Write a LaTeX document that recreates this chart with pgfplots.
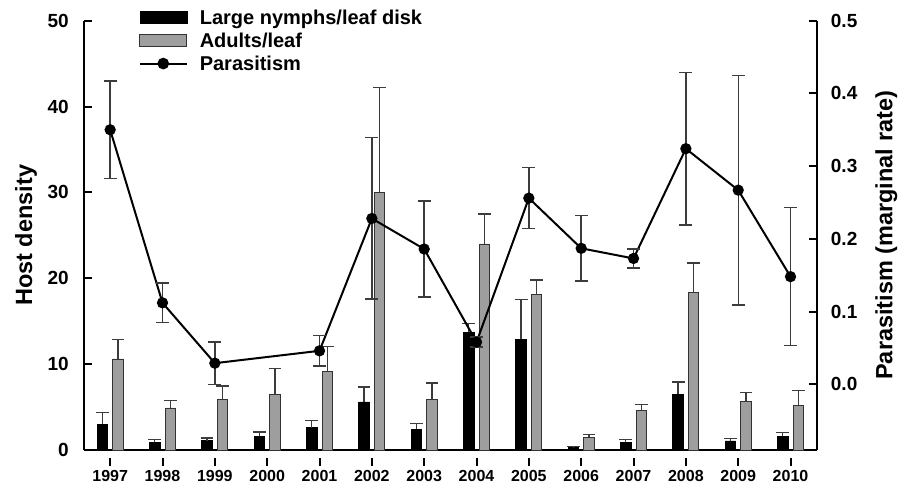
\documentclass[border=0pt]{standalone}
\usepackage{fontspec}
\setmainfont{Liberation Sans}
\usepackage{pgfplots}
\usepackage{pgfplotstable}
\pgfplotsset{compat=1.18}

\definecolor{adultgray}{RGB}{158,158,158}
\definecolor{errgray}{RGB}{60,60,60}

% Host densities per year: large nymphs per leaf disk and adults per leaf (mean, SE)
\pgfplotstableread{
year nymph nymphErr adult adultErr
1997 3.0  1.4  10.6 2.3
1998 0.9  0.3  4.9  0.9
1999 1.1  0.3  5.9  1.55
2000 1.6  0.5  6.5  3.0
2001 2.6  0.85 9.2  2.85
2002 5.6  1.75 30.0 12.2
2003 2.4  0.7  5.9  1.9
2004 13.7 1.0  24.0 3.5
2005 12.9 4.65 18.1 1.7
2006 0.3  0.08 1.5  0.3
2007 0.9  0.3  4.6  0.7
2008 6.5  1.4  18.3 3.5
2009 1.05 0.3  5.7  1.0
2010 1.6  0.45 5.2  1.7
}\hosttable

% Marginal parasitism rate (no estimate for 2000)
\pgfplotstableread{
year rate err
1997 0.350 0.067
1998 0.112 0.027
1999 0.029 0.029
2001 0.046 0.021
2002 0.228 0.111
2003 0.186 0.066
2004 0.058 0.007
2005 0.256 0.042
2006 0.187 0.045
2007 0.173 0.013
2008 0.324 0.105
2009 0.267 0.158
2010 0.148 0.095
}\parasitism

\pgfplotsset{
  % legend swatches are 47pt wide; the empty path leaves a gap before the text
  barlegend/.style={legend image code/.code={\draw[##1] (0pt,-6pt) rectangle (47pt,6pt); \path (57pt,0pt);}},
  linelegend/.style={legend image code/.code={\draw[##1] (0pt,0pt) -- (47pt,0pt); \fill[black] (23.5pt,0pt) circle (4.8pt); \path (57pt,0pt);}},
  panel/.style={
    at={(84pt,33pt)}, anchor=south west,
    scale only axis, width=732.7pt, height=429.3pt,
    xmin=1996.5, xmax=2010.5,
    enlargelimits=false, clip=false,
    axis line style={line width=2pt},
    tick align=inside, major tick length=8pt,
    every tick/.style={black, line width=2pt},
    /pgf/number format/assume math mode=true,
  },
  /pgfplots/error bars/errstyle/.style={
    error bar style={errgray, line width=1.4pt},
    error mark options={rotate=90, errgray, mark size=6.4pt, line width=1.4pt},
  },
}

\begin{document}
\begin{tikzpicture}
\useasboundingbox (0,0) rectangle (911pt,483pt);

% Left axis: host densities as paired bars
\begin{axis}[
  panel,
  axis y line*=left, axis x line*=bottom,
  ymin=0, ymax=50, ytick={0,10,20,30,40,50},
  xtick={1997,1998,1999,2000,2001,2002,2003,2004,2005,2006,2007,2008,2009,2010},
  xticklabels={1997,1998,1999,2000,2001,2002,2003,2004,2005,2006,2007,2008,2009,2010},
  x tick style={yshift=-8pt},
  xticklabel style={inner sep=0pt, anchor=north, yshift=-12pt, font=\bfseries\fontsize{16}{16}\selectfont},
  yticklabel style={inner sep=0pt, anchor=east, xshift=-15pt, font=\bfseries\fontsize{19}{19}\selectfont},
  ylabel={Host density},
  ylabel style={at={(axis description cs:-0.0942,0.5)}, anchor=north, inner sep=0pt, font=\bfseries\fontsize{23.5}{23.5}\selectfont},
  ybar=5pt, bar width=10.5pt,
]
\addplot[fill=black, draw=black, line width=0.8pt,
  error bars/.cd, y dir=plus, y explicit, errstyle]
  table[x=year, y=nymph, y error=nymphErr] {\hosttable};
\addplot[fill=adultgray, draw=black!80, line width=0.8pt,
  error bars/.cd, y dir=plus, y explicit, errstyle]
  table[x=year, y=adult, y error=adultErr] {\hosttable};
\end{axis}

% Right axis: parasitism rate as a line
\begin{axis}[
  panel,
  axis y line*=right, axis x line=none,
  ymin=-0.0904, ymax=0.5, ytick={0,0.1,0.2,0.3,0.4,0.5},
  yticklabel style={inner sep=0pt, anchor=west, xshift=14pt, font=\bfseries\fontsize{19}{19}\selectfont,
    /pgf/number format/.cd, fixed, fixed zerofill, precision=1},
  ylabel={Parasitism (marginal rate)},
  ylabel style={at={(axis description cs:1.0796,0.5)}, anchor=north, inner sep=0pt, font=\bfseries\fontsize{23.5}{23.5}\selectfont},
  legend style={draw=none, fill=none, at={(axis description cs:0.0745,1.031)}, anchor=north west,
    inner sep=0pt, row sep=3pt, font=\bfseries\fontsize{20}{20}\selectfont},
  legend cell align=left,
]
\addlegendimage{barlegend, fill=black, draw=black}
\addlegendentry{Large nymphs/leaf disk}
\addlegendimage{barlegend, fill=adultgray, draw=black!80, line width=0.8pt}
\addlegendentry{Adults/leaf}
\addlegendimage{linelegend, black, line width=2pt}
\addlegendentry{Parasitism}
\addplot[black, line width=2pt, mark=*, mark size=4.6pt, forget plot,
  error bars/.cd, y dir=both, y explicit, errstyle]
  table[x=year, y=rate, y error=err] {\parasitism};
\end{axis}
\end{tikzpicture}
\end{document}
